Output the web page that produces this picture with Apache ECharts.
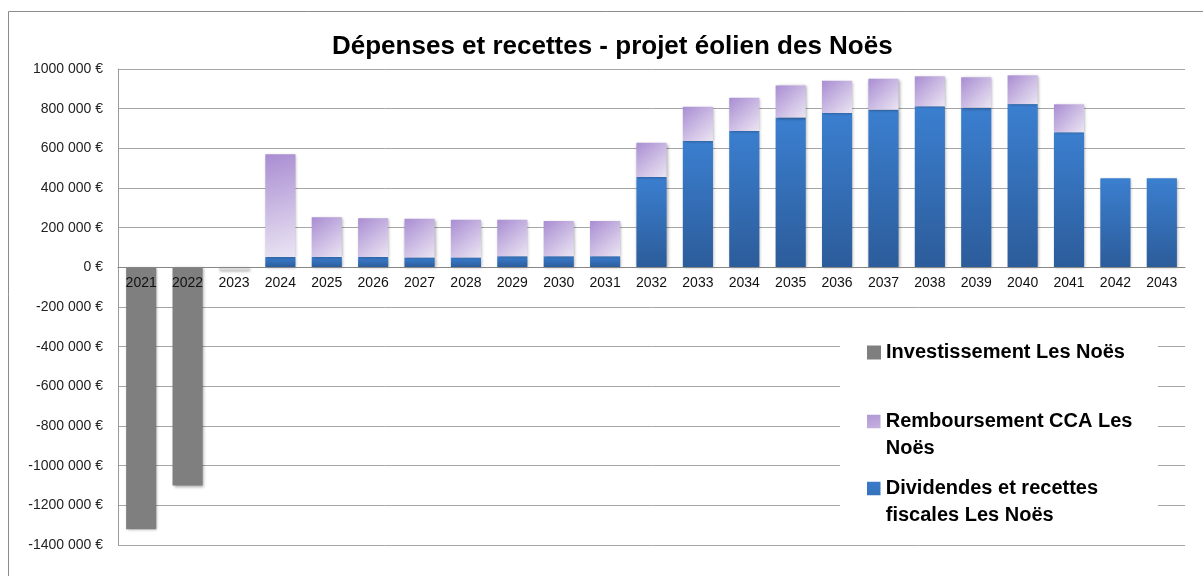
<!DOCTYPE html>
<html>
<head>
<meta charset="utf-8">
<script src="https://cdn.jsdelivr.net/npm/echarts@6/dist/echarts.min.js"></script>
<style>
  html, body { margin: 0; padding: 0; background: #fff; }
  #chart { width: 1203px; height: 576px; }
</style>
</head>
<body>
<div id="chart"></div>
<script>
const years = ['2021', '2022', '2023', '2024', '2025', '2026', '2027', '2028', '2029', '2030', '2031', '2032',
  '2033', '2034', '2035', '2036', '2037', '2038', '2039', '2040', '2041', '2042', '2043'];

// Investissement (négatif)
const investissement = [-1320000, -1100000, -15000, 0, 0, 0, 0, 0, 0, 0, 0, 0,
  0, 0, 0, 0, 0, 0, 0, 0, 0, 0, 0];

// Dividendes et recettes fiscales
const dividendes = [0, 0, 0, 52000, 52000, 52000, 50000, 50000, 56000, 56000, 56000, 455000,
  637000, 687000, 755000, 778000, 795000, 812000, 805000, 823000, 681000, 449000, 449000];

// Remboursement CCA
const remboursement = [0, 0, 0, 518000, 200000, 195000, 195000, 190000, 184000, 177000, 177000, 173000,
  173000, 168000, 162000, 163000, 156000, 151000, 153000, 145000, 141000, 0, 0];

const yMin = -1400000;
const yMax = 1000000;
const yStep = 200000;

const names = {
  inv: 'Investissement Les Noës',
  cca: 'Remboursement CCA Les Noës',
  div: 'Dividendes et recettes fiscales Les Noës'
};

const font = 'Liberation Sans, Arial, sans-serif';

const formatEuro = (v) => {
  if (v === 0) return '0 €';
  return (v < 0 ? '-' : '') + Math.abs(v) / 1000 + ' 000 €';
};

const shadow = {
  shadowColor: 'rgba(0,0,0,0.35)',
  shadowBlur: 3,
  shadowOffsetX: 1,
  shadowOffsetY: 1
};

const grey = '#7f7f7f';
const blueGrad = new echarts.graphic.LinearGradient(0, 0, 0, 1, [
  { offset: 0, color: '#3b7fd0' },
  { offset: 1, color: '#2c5c9a' }
]);
const purpleGrad = new echarts.graphic.LinearGradient(0, 0, 1, 1, [
  { offset: 0, color: '#a98dd2' },
  { offset: 1, color: '#ebe5f3' }
]);

// grille
const gridTop = 69;
const gridBottom = 31;
const gridHeight = 576 - gridTop - gridBottom;
// l'axe des années est posé sur la ligne du zéro (onZero ne suit pas ici)
const zeroOffset = -gridHeight * (0 - yMin) / (yMax - yMin);

// carré en haut d'une boîte haute, pour aligner l'icône sur la première ligne
const iconTop = 'path://M0,0h0.01v0.01h-0.01z M0,7h14v14h-14z M0,55.99h0.01v0.01h-0.01z';
const iconSquare = 'path://M0,0h14v14h-14z';

const legendText = { fontSize: 20, fontWeight: 'bold', color: '#000', lineHeight: 27, fontFamily: font };

const myChart = echarts.init(document.getElementById('chart'));

const option = {
  animation: false,
  textStyle: { fontFamily: font },
  title: {
    text: 'Dépenses et recettes - projet éolien des Noës',
    left: 332,
    top: 34,
    padding: 0,
    textStyle: { fontSize: 26, fontWeight: 'bold', color: '#000', fontFamily: font }
  },
  graphic: [
    {
      type: 'rect',
      z: 0,
      shape: { x: 8.5, y: 11.5, width: 1400, height: 800 },
      style: { fill: 'none', stroke: '#8c8c8c', lineWidth: 1 }
    },
    {
      type: 'rect',
      z: 3,
      shape: { x: 840, y: 330, width: 318, height: 210 },
      style: { fill: '#fff' }
    }
  ],
  legend: [
    {
      data: [{ name: names.inv, icon: iconSquare, itemStyle: { color: grey } }],
      orient: 'vertical',
      left: 867,
      top: 339,
      padding: 0,
      itemWidth: 14,
      itemHeight: 14,
      itemGap: 6,
      z: 5,
      selectedMode: false,
      textStyle: legendText
    },
    {
      data: [
        { name: names.cca, icon: iconTop },
        { name: names.div, icon: iconTop }
      ],
      orient: 'vertical',
      left: 867,
      top: 408,
      padding: 0,
      itemWidth: 14,
      itemHeight: 54,
      itemGap: 13,
      z: 5,
      selectedMode: false,
      formatter: (name) => name === names.cca ? 'Remboursement CCA Les\nNoës' : 'Dividendes et recettes\nfiscales Les Noës',
      textStyle: legendText
    }
  ],
  grid: {
    left: 118,
    right: 18,
    top: gridTop,
    bottom: gridBottom,
    containLabel: false
  },
  xAxis: {
    type: 'category',
    data: years,
    offset: zeroOffset,
    axisLine: { onZero: false, lineStyle: { color: '#868686', width: 1 } },
    axisTick: { show: false },
    axisLabel: { fontSize: 14, color: '#111', margin: 9, fontFamily: font },
    z: 3
  },
  yAxis: {
    type: 'value',
    min: yMin,
    max: yMax,
    interval: yStep,
    axisLine: { show: true, onZero: false, lineStyle: { color: '#9a9a9a' } },
    axisTick: { show: false },
    axisLabel: { formatter: formatEuro, fontSize: 14, color: '#222', margin: 15, fontFamily: font },
    splitLine: { lineStyle: { color: '#a6a6a6', width: 1 } }
  },
  series: [
    {
      name: names.inv,
      type: 'bar',
      stack: 'total',
      barCategoryGap: '35%',
      data: investissement,
      itemStyle: Object.assign({
        color: (p) => (p.value > -50000 ? '#dadada' : grey)
      }, shadow)
    },
    {
      name: names.div,
      type: 'bar',
      stack: 'total',
      barCategoryGap: '35%',
      data: dividendes,
      itemStyle: Object.assign({ color: blueGrad }, shadow)
    },
    {
      name: names.cca,
      type: 'bar',
      stack: 'total',
      barCategoryGap: '35%',
      data: remboursement,
      itemStyle: Object.assign({ color: purpleGrad }, shadow)
    }
  ]
};

myChart.setOption(option);
</script>
</body>
</html>
